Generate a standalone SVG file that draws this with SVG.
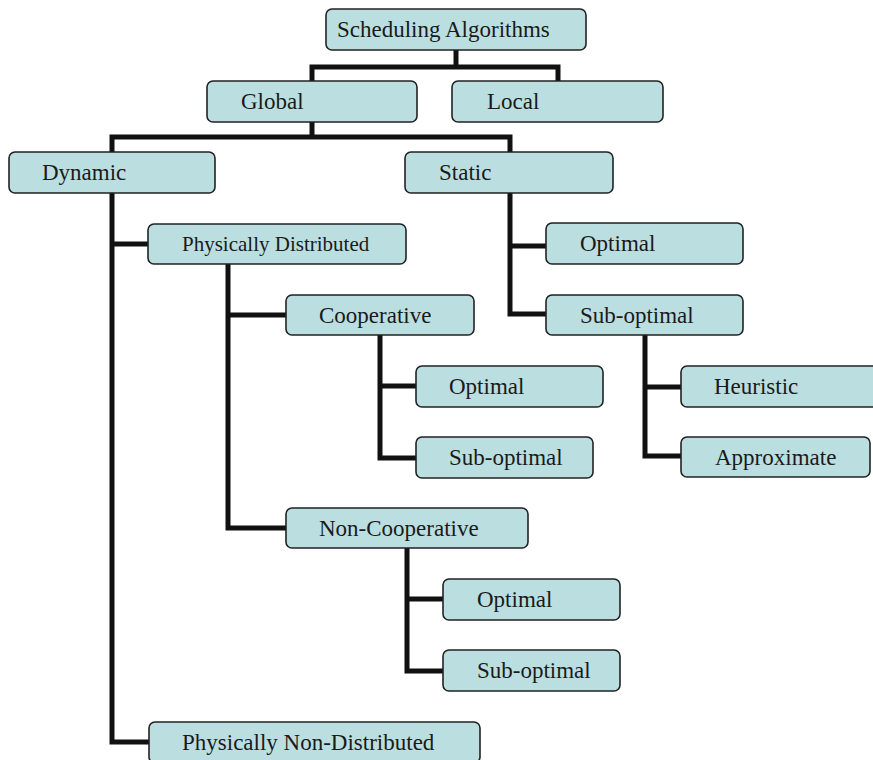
<svg xmlns="http://www.w3.org/2000/svg" width="873" height="760" viewBox="0 0 873 760">
  <style>
    .box { fill: #bbdfe1; stroke: #222; stroke-width: 1.6; }
    .lbl { font-family: "Liberation Serif", "Times New Roman", serif; font-size: 23px; fill: #1a1a1a; }
    .sm { font-size: 21px; }
    .wire { fill: none; stroke: #111; stroke-width: 5; stroke-linejoin: miter; stroke-linecap: butt; }
  </style>
  <rect width="873" height="760" fill="#ffffff"/>

  <!-- tree connectors -->
  <g id="connectors">
    <path class="wire" d="M456,50 V67"/>
    <path class="wire" d="M312,81 V67 H558 V81"/>
    <path class="wire" d="M312,122 V137"/>
    <path class="wire" d="M112,152 V137 H510 V152"/>
    <path class="wire" d="M112,193 V742 H149"/>
    <path class="wire" d="M112,244 H148"/>
    <path class="wire" d="M228,264 V528 H286"/>
    <path class="wire" d="M228,315 H286"/>
    <path class="wire" d="M380,335 V458 H416"/>
    <path class="wire" d="M380,386 H416"/>
    <path class="wire" d="M407,548 V671 H443"/>
    <path class="wire" d="M407,599 H443"/>
    <path class="wire" d="M510,193 V314 H546"/>
    <path class="wire" d="M510,246 H546"/>
    <path class="wire" d="M645,335 V456 H681"/>
    <path class="wire" d="M645,387 H681"/>
  </g>

  <g id="scheduling-algorithms">
    <rect class="box" x="326" y="9" width="260" height="41" rx="6"/>
    <text class="lbl" x="337" y="37">Scheduling Algorithms</text>
  </g>
  <g id="global">
    <rect class="box" x="207" y="81" width="210" height="41" rx="6"/>
    <text class="lbl" x="241" y="109">Global</text>
  </g>
  <g id="local">
    <rect class="box" x="452" y="81" width="211" height="41" rx="6"/>
    <text class="lbl" x="487" y="109">Local</text>
  </g>
  <g id="dynamic">
    <rect class="box" x="9" y="152" width="206" height="41" rx="6"/>
    <text class="lbl" x="42" y="180">Dynamic</text>
  </g>
  <g id="static">
    <rect class="box" x="405" y="152" width="208" height="41" rx="6"/>
    <text class="lbl" x="439" y="180">Static</text>
  </g>
  <g id="physically-distributed">
    <rect class="box" x="148" y="224" width="258" height="40" rx="6"/>
    <text class="lbl sm" x="182" y="251">Physically Distributed</text>
  </g>
  <g id="static-optimal">
    <rect class="box" x="546" y="223" width="197" height="41" rx="6"/>
    <text class="lbl" x="580" y="251">Optimal</text>
  </g>
  <g id="static-suboptimal">
    <rect class="box" x="546" y="295" width="197" height="40" rx="6"/>
    <text class="lbl" x="580" y="323">Sub-optimal</text>
  </g>
  <g id="cooperative">
    <rect class="box" x="286" y="295" width="188" height="40" rx="6"/>
    <text class="lbl" x="319" y="323">Cooperative</text>
  </g>
  <g id="coop-optimal">
    <rect class="box" x="416" y="366" width="187" height="41" rx="6"/>
    <text class="lbl" x="449" y="394">Optimal</text>
  </g>
  <g id="coop-suboptimal">
    <rect class="box" x="416" y="437" width="177" height="41" rx="6"/>
    <text class="lbl" x="449" y="465">Sub-optimal</text>
  </g>
  <g id="heuristic">
    <rect class="box" x="681" y="366" width="200" height="41" rx="6"/>
    <text class="lbl" x="714" y="394">Heuristic</text>
  </g>
  <g id="approximate">
    <rect class="box" x="681" y="437" width="189" height="40" rx="6"/>
    <text class="lbl" x="715" y="465">Approximate</text>
  </g>
  <g id="non-cooperative">
    <rect class="box" x="286" y="508" width="242" height="40" rx="6"/>
    <text class="lbl" x="319" y="536">Non-Cooperative</text>
  </g>
  <g id="noncoop-optimal">
    <rect class="box" x="443" y="579" width="177" height="41" rx="6"/>
    <text class="lbl" x="477" y="607">Optimal</text>
  </g>
  <g id="noncoop-suboptimal">
    <rect class="box" x="443" y="650" width="177" height="41" rx="6"/>
    <text class="lbl" x="477" y="678">Sub-optimal</text>
  </g>
  <g id="physically-non-distributed">
    <rect class="box" x="149" y="722" width="331" height="41" rx="6"/>
    <text class="lbl" x="182" y="750">Physically Non-Distributed</text>
  </g>
</svg>
